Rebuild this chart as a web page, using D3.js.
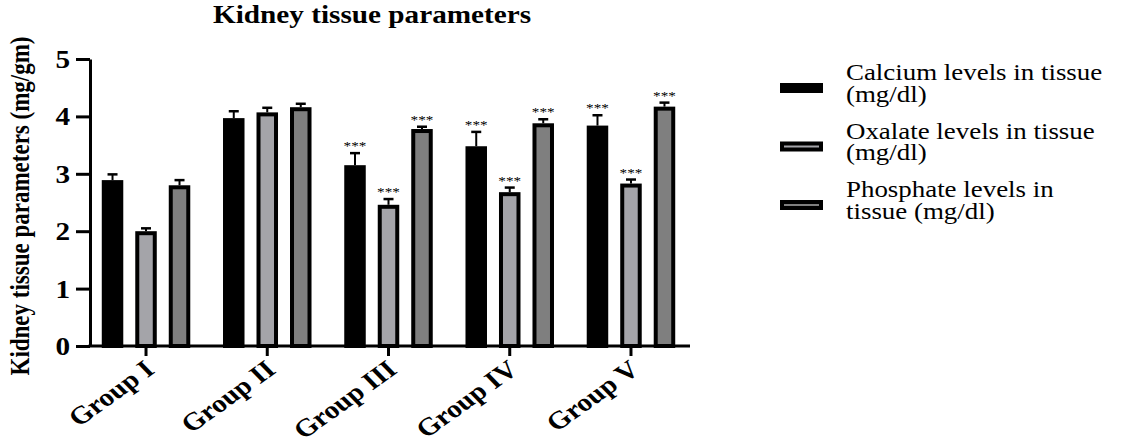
<!DOCTYPE html>
<html>
<head>
<meta charset="utf-8">
<script src="https://cdn.jsdelivr.net/npm/d3@7"></script>
<style>
  body { margin: 0; background: #fff; }
  text { font-family: "Liberation Serif", "Times New Roman", serif; fill: #000; }
</style>
</head>
<body>
<div id="chart"></div>
<script>
// data
var groups = ["Group I", "Group II", "Group III", "Group IV", "Group V"];
var seriesNames = ["Calcium levels in tissue (mg/dl)", "Oxalate levels in tissue (mg/dl)", "Phosphate levels in tissue (mg/dl)"];
var legendLines = [["Calcium levels in tissue", "(mg/dl)"], ["Oxalate levels in tissue", "(mg/dl)"], ["Phosphate levels in", "tissue (mg/dl)"]];
var calcium = [2.89, 3.97, 3.15, 3.48, 3.84];
var calciumErr = [0.10, 0.12, 0.21, 0.25, 0.18];
var oxalate = [2.00, 4.07, 2.46, 2.68, 2.83];
var oxalateErr = [0.05, 0.08, 0.10, 0.08, 0.07];
var phosphate = [2.80, 4.16, 3.78, 3.88, 4.17];
var phosphateErr = [0.09, 0.06, 0.04, 0.07, 0.07];
var calciumSig = ["", "", "***", "***", "***"];
var oxalateSig = ["", "", "***", "***", "***"];
var phosphateSig = ["", "", "***", "***", "***"];
var yTicks = [0, 1, 2, 3, 4, 5];
var colors = ["#000000", "#a4a4a9", "#7f7f7f"];

var sx = 1.17; // the picture is stretched a bit sideways

var width = 1122, height = 444;
var svg = d3.select("#chart").append("svg")
    .attr("width", width)
    .attr("height", height);

var seriesVals = [calcium, oxalate, phosphate];
var seriesErr = [calciumErr, oxalateErr, phosphateErr];
var seriesSig = [calciumSig, oxalateSig, phosphateSig];

var data = [];
groups.forEach(function (g, i) {
    seriesNames.forEach(function (s, j) {
        data.push({ group: g, series: s, k: j, value: seriesVals[j][i], err: seriesErr[j][i], sig: seriesSig[j][i] });
    });
});

// scales
var y = d3.scaleLinear().domain([0, 5]).range([346, 59]);
var x0 = d3.scaleBand().domain(groups).range([85.4, 691.6]);
var x1 = d3.scaleBand().domain(seriesNames).range([-44.25, 44.25]).paddingInner(0.358);

function cx(d) { return x0(d.group) + x0.bandwidth() / 2; }

// bars
var bw = x1.bandwidth();
svg.append("g").selectAll("rect")
    .data(data)
    .enter().append("rect")
    .attr("x", function (d) { return cx(d) + x1(d.series) + 2; })
    .attr("y", function (d) { return y(d.value) + 2; })
    .attr("width", bw - 4)
    .attr("height", function (d) { return y(0) - y(d.value) - 2; })
    .attr("fill", function (d) { return colors[d.k]; })
    .attr("stroke", "#000")
    .attr("stroke-width", 4);

// error bars (upper only)
var eb = svg.append("g").attr("stroke", "#000").attr("stroke-width", 2);
eb.selectAll(".stem").data(data).enter().append("line")
    .attr("x1", function (d) { return cx(d) + x1(d.series) + bw / 2; })
    .attr("x2", function (d) { return cx(d) + x1(d.series) + bw / 2; })
    .attr("y1", function (d) { return y(d.value); })
    .attr("y2", function (d) { return y(d.value + d.err); });
eb.selectAll(".cap").data(data).enter().append("line")
    .attr("x1", function (d) { return cx(d) + x1(d.series) + bw / 2 - 5; })
    .attr("x2", function (d) { return cx(d) + x1(d.series) + bw / 2 + 5; })
    .attr("y1", function (d) { return y(d.value + d.err); })
    .attr("y2", function (d) { return y(d.value + d.err); })
    .attr("stroke-width", 2.5);

// significance stars
svg.append("g").selectAll("text")
    .data(data.filter(function (d) { return d.sig; }))
    .enter().append("text")
    .attr("transform", function (d) {
        return "translate(" + (cx(d) + x1(d.series) + bw / 2) + "," + (y(d.value + d.err) - 3) + ") scale(" + sx + ",1)";
    })
    .attr("text-anchor", "middle")
    .style("font-size", "13px")
    .text(function (d) { return d.sig; });

// y axis
var yAxis = svg.append("g")
    .attr("transform", "translate(90,0)")
    .call(d3.axisLeft(y).tickValues(yTicks).tickFormat(d3.format("d")).tickSize(14).tickPadding(6).tickSizeOuter(0));
yAxis.select(".domain").attr("stroke-width", 3);
yAxis.selectAll(".tick line").attr("stroke-width", 3);
yAxis.selectAll(".tick text")
    .attr("x", null).attr("dy", null)
    .attr("transform", "translate(-20,8.5) scale(" + sx + ",1)")
    .attr("text-anchor", "end")
    .style("font-size", "25px")
    .style("font-weight", "bold")
    .style("font-family", "'Liberation Serif', serif");

// x axis
var xAxis = svg.append("g")
    .attr("transform", "translate(0,346)")
    .call(d3.axisBottom(x0).tickSize(10).tickSizeOuter(0));
xAxis.select(".domain").remove();
xAxis.append("line")
    .attr("x1", 88.5).attr("x2", 690)
    .attr("stroke", "#000").attr("stroke-width", 3);
xAxis.selectAll(".tick line").attr("stroke-width", 3);
xAxis.selectAll(".tick text")
    .attr("y", null).attr("dy", null)
    .attr("transform", "translate(10,26) scale(" + sx + ",1) rotate(-40)")
    .attr("text-anchor", "end")
    .style("font-size", "25px")
    .style("font-weight", "bold")
    .style("font-family", "'Liberation Serif', serif");

// title
svg.append("text")
    .attr("transform", "translate(372,23) scale(" + sx + ",1)")
    .attr("text-anchor", "middle")
    .style("font-size", "25px")
    .style("font-weight", "bold")
    .text("Kidney tissue parameters");

// y label
svg.append("text")
    .attr("transform", "translate(29,206) scale(" + sx + ",1) rotate(-90)")
    .attr("text-anchor", "middle")
    .style("font-size", "23px")
    .style("font-weight", "bold")
    .text("Kidney tissue parameters (mg/gm)");

// legend
var legend = svg.append("g").selectAll("g")
    .data(seriesNames)
    .enter().append("g")
    .attr("transform", function (d, i) { return "translate(780," + (80 + i * 58.5) + ")"; });
legend.append("rect")
    .attr("x", 2).attr("y", 5)
    .attr("width", 39).attr("height", 6)
    .attr("fill", function (d, i) { return colors[i]; })
    .attr("stroke", "#000")
    .attr("stroke-width", 4);
legend.each(function (d, i) {
    var g = d3.select(this);
    legendLines[i].forEach(function (line, j) {
        g.append("text")
            .attr("transform", "translate(66," + (j * 21.5) + ") scale(" + sx + ",1)")
            .style("font-size", "23px")
            .text(line);
    });
});
</script>
</body>
</html>
